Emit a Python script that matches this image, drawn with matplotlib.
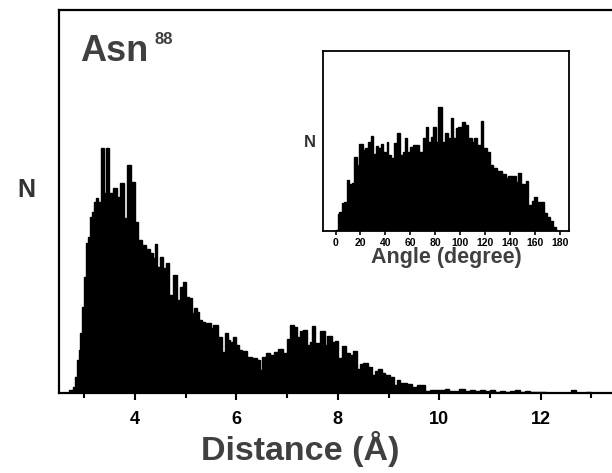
import matplotlib
matplotlib.use('Agg')
import matplotlib.pyplot as plt
from matplotlib.ticker import MultipleLocator

plt.rcParams['font.family'] = ['Liberation Sans', 'DejaVu Sans']
plt.rcParams['font.weight'] = 'bold'

# distance histogram (bin edges in Angstrom, counts in arbitrary units)
dist_edges = [2.70, 2.78, 2.82, 2.86, 2.90, 2.92, 2.95, 2.99, 3.03, 3.07, 3.11,
              3.15, 3.19, 3.23, 3.27, 3.33, 3.39, 3.43, 3.49, 3.57, 3.65, 3.70,
              3.78, 3.84, 3.92, 4.00, 4.06, 4.14, 4.22, 4.30, 4.35, 4.39, 4.43,
              4.49, 4.55, 4.61, 4.67, 4.75, 4.83, 4.89, 4.95, 5.01, 5.06, 5.12,
              5.16, 5.22, 5.26, 5.32, 5.38, 5.44, 5.50, 5.54, 5.64, 5.72, 5.78,
              5.83, 5.87, 5.93, 5.99, 6.05, 6.11, 6.21, 6.31, 6.41, 6.47, 6.50,
              6.58, 6.66, 6.74, 6.82, 6.92, 7.00, 7.06, 7.14, 7.20, 7.25, 7.31,
              7.39, 7.45, 7.49, 7.55, 7.65, 7.75, 7.79, 7.89, 7.94, 8.00, 8.08,
              8.16, 8.24, 8.30, 8.38, 8.44, 8.50, 8.60, 8.67, 8.73, 8.79, 8.87,
              8.93, 9.03, 9.11, 9.17, 9.23, 9.29, 9.36, 9.46, 9.56, 9.66, 9.72,
              9.82, 9.96, 10.11, 10.2, 10.3, 10.4, 10.5, 10.6, 10.7, 10.8, 10.9,
              11.0, 11.1, 11.2, 11.3, 11.4, 11.5, 11.6, 11.7, 11.8, 11.9, 12.0,
              12.1, 12.2, 12.6, 12.7, 12.9, 13.0]
dist_counts = [3, 6, 16, 33, 43, 60, 86, 116, 150, 156, 176,
               181, 191, 195, 191, 245, 200, 245, 200, 205, 196, 210,
               175, 228, 211, 171, 153, 148, 144, 140, 135, 149, 126,
               136, 125, 130, 98, 118, 93, 106, 111, 96, 95, 80,
               85, 81, 73, 71, 70, 70, 65, 68, 56, 41, 60,
               53, 51, 56, 48, 43, 42, 36, 35, 33, 23, 36,
               40, 38, 41, 44, 40, 54, 68, 66, 56, 62, 63,
               48, 51, 67, 50, 62, 48, 57, 51, 52, 35, 47,
               40, 38, 42, 24, 29, 30, 26, 18, 22, 24, 20,
               18, 16, 8, 13, 10, 10, 9, 6, 8, 8, 2,
               3, 3, 4, 2, 2, 4, 2, 3, 2, 3, 2,
               3, 1, 2, 1, 2, 3, 1, 2, 1, 1, 1,
               0.5, 0.3, 3, 0.3, 1.5]

# angle histogram (bin edges in degree)
angle_edges = [0, 1.6, 3.2, 5.6, 7.2, 9.6, 11.2, 13.6, 15.2, 17.6, 19.2, 22.4,
               24.0, 26.4, 28.8, 30.4, 32.8, 34.4, 36.8, 38.4, 41.6, 42.4, 44.8,
               47.2, 49.6, 52.0, 54.4, 56.0, 57.6, 60.0, 62.4, 64.8, 67.2, 70.4,
               72.8, 74.4, 76.8, 78.4, 80.8, 82.4, 85.6, 88.0, 90.4, 92.8, 94.4,
               96.8, 98.4, 101.6, 104.0, 106.4, 109.6, 111.2, 113.6, 116.8, 118.4,
               121.6, 124.0, 126.4, 129.6, 133.6, 136.8, 138.4, 141.6, 144.8,
               146.4, 148.8, 152.8, 154.4, 157.6, 159.2, 161.6, 167.2, 169.6,
               172.0, 174.4, 176.8, 177.6]
angle_counts = [1, 17, 19, 28, 29, 51, 47, 48, 74, 66, 87,
                81, 83, 89, 95, 77, 85, 83, 87, 79, 89, 76,
                73, 88, 98, 76, 79, 93, 79, 84, 86, 86, 79,
                93, 104, 89, 94, 104, 89, 124, 89, 98, 93, 113,
                93, 103, 104, 109, 106, 93, 89, 93, 86, 110,
                83, 79, 66, 63, 60, 57, 53, 55, 55,
                49, 58, 47, 50, 26, 30, 34, 29, 18,
                14, 10, 4, 1]

dist_ticks = [4, 6, 8, 10, 12]
angle_ticks = [0, 20, 40, 60, 80, 100, 120, 140, 160, 180]

fig = plt.figure(figsize=(6.12, 4.73), dpi=100)
ax = fig.add_axes([0.0964, 0.1691, 0.9526, 0.8097])
ax.stairs(dist_counts, dist_edges, fill=True, color='black')
ax.stairs(dist_counts, dist_edges, color='black', linewidth=1)
ax.set_xlim(2.5, 14)
ax.set_ylim(0, 383)
ax.set_xticks(dist_ticks)
ax.xaxis.set_minor_locator(MultipleLocator(1))
ax.set_yticks([])
for s in ax.spines.values():
    s.set_linewidth(1.6)
ax.tick_params(axis='x', which='major', direction='out', length=5, width=1.5,
               labelsize=13, pad=8)
ax.tick_params(axis='x', which='minor', direction='out', length=3.5, width=1.5)
ax.set_xlabel('Distance (Å)', fontsize=24.5, color='#404040', fontweight='bold')
ax.xaxis.set_label_coords(0.413, -0.098)
ax.xaxis.label.set_va('top')
fig.text(0.043, 0.598, 'N', fontsize=18, color='#333333', fontweight='bold',
         ha='center', va='center')
fig.text(0.131, 0.87, 'Asn', fontsize=26, color='#404040', fontweight='bold',
         ha='left', va='baseline')
fig.text(0.252, 0.908, '88', fontsize=12, color='#404040', fontweight='bold',
         ha='left', va='baseline')

ins = fig.add_axes([0.5278, 0.5116, 0.4020, 0.3805])
ins.stairs(angle_counts, angle_edges, fill=True, color='black')
ins.stairs(angle_counts, angle_edges, color='black', linewidth=1)
ins.set_xlim(-10, 187)
ins.set_ylim(0, 180)
ins.set_xticks(angle_ticks)
ins.set_yticks([])
for s in ins.spines.values():
    s.set_linewidth(1.3)
ins.tick_params(axis='x', direction='out', length=3, width=1.2, labelsize=7.5,
                pad=2)
ins.set_xlabel('Angle (degree)', fontsize=15.5, color='#404040', fontweight='bold',
               labelpad=-1)
fig.text(0.507, 0.698, 'N', fontsize=12, color='#333333', fontweight='bold',
         ha='center', va='center')

fig.savefig('out.png', dpi=100)
